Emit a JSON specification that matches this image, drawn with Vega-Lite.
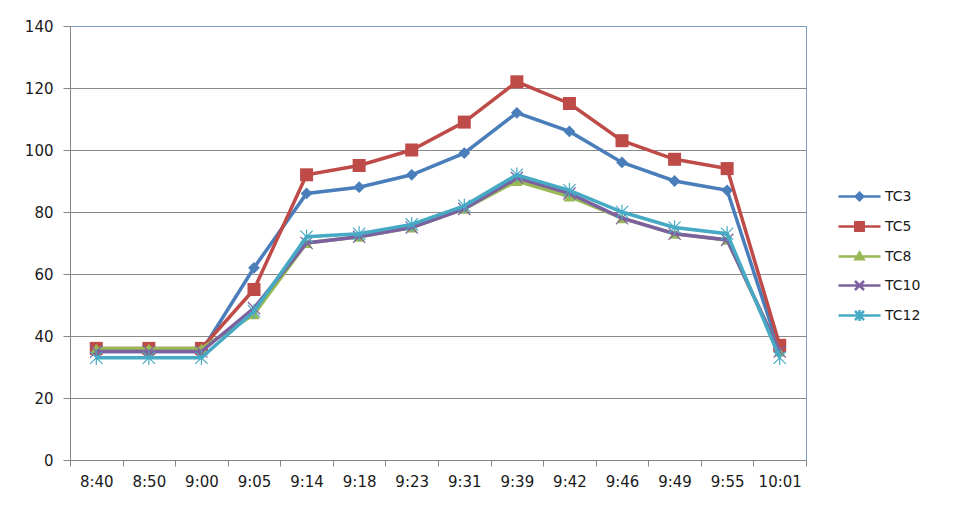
{
  "$schema": "https://vega.github.io/schema/vega-lite/v6.json",
  "width": 736,
  "height": 434,
  "autosize": {"type": "none"},
  "padding": {"left": 70, "top": 26, "right": 152, "bottom": 50},
  "background": "white",
  "config": {"font": "DejaVu Sans", "view": {"stroke": "#7f9ec6", "strokeWidth": 1}},
  "data": {"values": [
    {"t": "8:40", "series": "TC3", "v": 35}, {"t": "8:50", "series": "TC3", "v": 35}, {"t": "9:00", "series": "TC3", "v": 35}, {"t": "9:05", "series": "TC3", "v": 62}, {"t": "9:14", "series": "TC3", "v": 86}, {"t": "9:18", "series": "TC3", "v": 88}, {"t": "9:23", "series": "TC3", "v": 92}, {"t": "9:31", "series": "TC3", "v": 99}, {"t": "9:39", "series": "TC3", "v": 112}, {"t": "9:42", "series": "TC3", "v": 106}, {"t": "9:46", "series": "TC3", "v": 96}, {"t": "9:49", "series": "TC3", "v": 90}, {"t": "9:55", "series": "TC3", "v": 87}, {"t": "10:01", "series": "TC3", "v": 35},
    {"t": "8:40", "series": "TC5", "v": 36}, {"t": "8:50", "series": "TC5", "v": 36}, {"t": "9:00", "series": "TC5", "v": 36}, {"t": "9:05", "series": "TC5", "v": 55}, {"t": "9:14", "series": "TC5", "v": 92}, {"t": "9:18", "series": "TC5", "v": 95}, {"t": "9:23", "series": "TC5", "v": 100}, {"t": "9:31", "series": "TC5", "v": 109}, {"t": "9:39", "series": "TC5", "v": 122}, {"t": "9:42", "series": "TC5", "v": 115}, {"t": "9:46", "series": "TC5", "v": 103}, {"t": "9:49", "series": "TC5", "v": 97}, {"t": "9:55", "series": "TC5", "v": 94}, {"t": "10:01", "series": "TC5", "v": 37},
    {"t": "8:40", "series": "TC8", "v": 36}, {"t": "8:50", "series": "TC8", "v": 36}, {"t": "9:00", "series": "TC8", "v": 36}, {"t": "9:05", "series": "TC8", "v": 47}, {"t": "9:14", "series": "TC8", "v": 70}, {"t": "9:18", "series": "TC8", "v": 72}, {"t": "9:23", "series": "TC8", "v": 75}, {"t": "9:31", "series": "TC8", "v": 81}, {"t": "9:39", "series": "TC8", "v": 90}, {"t": "9:42", "series": "TC8", "v": 85}, {"t": "9:46", "series": "TC8", "v": 78}, {"t": "9:49", "series": "TC8", "v": 73}, {"t": "9:55", "series": "TC8", "v": 71}, {"t": "10:01", "series": "TC8", "v": 35},
    {"t": "8:40", "series": "TC10", "v": 35}, {"t": "8:50", "series": "TC10", "v": 35}, {"t": "9:00", "series": "TC10", "v": 35}, {"t": "9:05", "series": "TC10", "v": 49}, {"t": "9:14", "series": "TC10", "v": 70}, {"t": "9:18", "series": "TC10", "v": 72}, {"t": "9:23", "series": "TC10", "v": 75}, {"t": "9:31", "series": "TC10", "v": 81}, {"t": "9:39", "series": "TC10", "v": 91}, {"t": "9:42", "series": "TC10", "v": 86}, {"t": "9:46", "series": "TC10", "v": 78}, {"t": "9:49", "series": "TC10", "v": 73}, {"t": "9:55", "series": "TC10", "v": 71}, {"t": "10:01", "series": "TC10", "v": 35},
    {"t": "8:40", "series": "TC12", "v": 33}, {"t": "8:50", "series": "TC12", "v": 33}, {"t": "9:00", "series": "TC12", "v": 33}, {"t": "9:05", "series": "TC12", "v": 48}, {"t": "9:14", "series": "TC12", "v": 72}, {"t": "9:18", "series": "TC12", "v": 73}, {"t": "9:23", "series": "TC12", "v": 76}, {"t": "9:31", "series": "TC12", "v": 82}, {"t": "9:39", "series": "TC12", "v": 92}, {"t": "9:42", "series": "TC12", "v": 87}, {"t": "9:46", "series": "TC12", "v": 80}, {"t": "9:49", "series": "TC12", "v": 75}, {"t": "9:55", "series": "TC12", "v": 73}, {"t": "10:01", "series": "TC12", "v": 33}
  ]},
  "encoding": {
    "x": {
      "field": "t", "type": "ordinal", "bandPosition": 0.5,
      "scale": {"type": "band", "paddingInner": 0, "paddingOuter": 0,
        "domain": ["8:40", "8:50", "9:00", "9:05", "9:14", "9:18", "9:23", "9:31", "9:39", "9:42", "9:46", "9:49", "9:55", "10:01"]},
      "axis": {"title": null, "tickBand": "extent", "labelAngle": 0, "grid": false,
        "domainColor": "#868686", "tickColor": "#868686", "tickSize": 6, "labelPadding": 8,
        "labelFontSize": 15, "labelColor": "#1a1a1a"}
    },
    "y": {
      "field": "v", "type": "quantitative",
      "scale": {"domain": [0, 140], "nice": false},
      "axis": {"title": null, "values": [0, 20, 40, 60, 80, 100, 120, 140], "grid": true,
        "gridColor": {"condition": {"test": "datum.value === 140", "value": "#7f9ec6"}, "value": "#8a8a8a"},
        "domainColor": "#868686", "tickColor": "#868686", "tickSize": 7, "labelPadding": 10,
        "labelFontSize": 15, "labelColor": "#1a1a1a"}
    },
    "color": {
      "field": "series", "type": "nominal",
      "scale": {"domain": ["TC3", "TC5", "TC8", "TC10", "TC12"], "range": ["#4a7ebb", "#be4b48", "#98b954", "#7d60a0", "#46aac5"]},
      "legend": {"title": null, "orient": "none", "legendX": 778, "legendY": 159, "padding": 0,
        "symbolOffset": 0, "labelOffset": 14, "rowPadding": 9, "labelFontSize": 14, "labelColor": "#1a1a1a",
        "symbolSize": 400,
        "encode": {"symbols": {"update": {
          "shape": {"scale": "shape", "field": "value"},
          "fill": {"scale": "color", "field": "value"},
          "stroke": {"scale": "color", "field": "value"},
          "strokeWidth": {"value": 2.5},
          "opacity": {"value": 1},
          "size": {"value": 400}
        }}}}
    }
  },
  "layer": [
    {"transform": [{"filter": "datum.series === 'TC3'"}],
     "mark": {"type": "line", "strokeWidth": 3.5, "point": {"shape": "diamond", "filled": true, "size": 140, "opacity": 1}}},
    {"transform": [{"filter": "datum.series === 'TC5'"}],
     "mark": {"type": "line", "strokeWidth": 3.5, "point": {"shape": "square", "filled": true, "size": 169, "opacity": 1}}},
    {"transform": [{"filter": "datum.series === 'TC8'"}],
     "mark": {"type": "line", "strokeWidth": 3.5, "point": {"shape": "triangle-up", "filled": true, "size": 130, "opacity": 1}}},
    {"transform": [{"filter": "datum.series === 'TC10'"}],
     "mark": {"type": "line", "strokeWidth": 3.5, "point": {"shape": "M-1,-1L1,1M1,-1L-1,1", "filled": false, "strokeWidth": 1.2, "size": 150, "opacity": 1}}},
    {"transform": [{"filter": "datum.series === 'TC12'"}],
     "mark": {"type": "line", "strokeWidth": 3.5, "point": {"shape": "M-1,-1L1,1M1,-1L-1,1M0,-1.2L0,1.2", "filled": false, "strokeWidth": 1.2, "size": 150, "opacity": 1}}},
    {"mark": {"type": "point", "filled": true, "opacity": 0, "size": 400},
     "encoding": {"shape": {"field": "series", "type": "nominal",
       "scale": {"domain": ["TC3", "TC5", "TC8", "TC10", "TC12"],
         "range": [
           "M-2.1,0L2.1,0M0,-0.38L0.38,0L0,0.38L-0.38,0Z",
           "M-2.1,0L2.1,0M-0.42,-0.42L0.42,-0.42L0.42,0.42L-0.42,0.42Z",
           "M-2.1,0L2.1,0M0,-0.4L0.4,0.28L-0.4,0.28Z",
           "M-2.1,0L2.1,0M-0.45,-0.45L0.45,0.45M0.45,-0.45L-0.45,0.45",
           "M-2.1,0L2.1,0M-0.45,-0.45L0.45,0.45M0.45,-0.45L-0.45,0.45M0,-0.55L0,0.55"]},
       "legend": {"title": null, "orient": "none", "legendX": 778, "legendY": 159, "padding": 0,
        "symbolOffset": 0, "labelOffset": 14, "rowPadding": 9, "labelFontSize": 14, "labelColor": "#1a1a1a",
        "symbolSize": 400,
        "encode": {"symbols": {"update": {
          "shape": {"scale": "shape", "field": "value"},
          "fill": {"scale": "color", "field": "value"},
          "stroke": {"scale": "color", "field": "value"},
          "strokeWidth": {"value": 2.5},
          "opacity": {"value": 1},
          "size": {"value": 400}
        }}}}}}}
  ]
}
